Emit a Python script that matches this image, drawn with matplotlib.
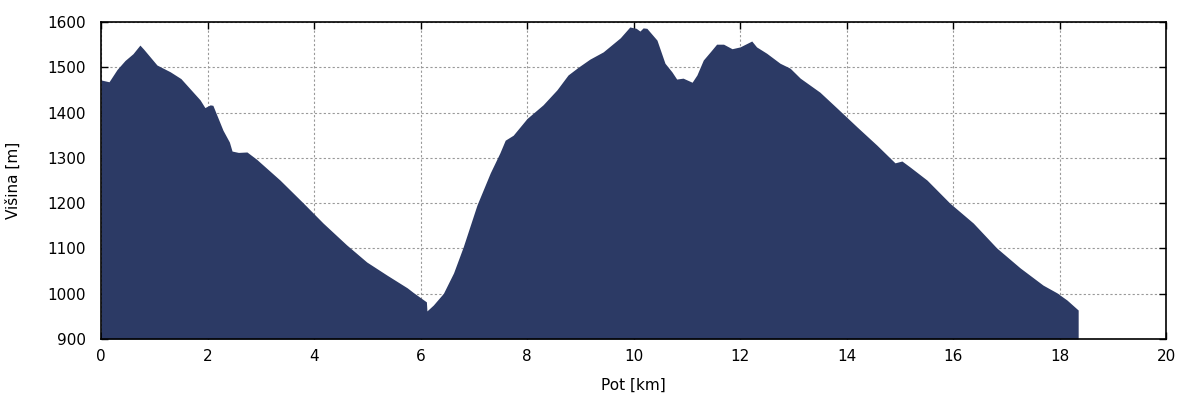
import matplotlib
matplotlib.use("Agg")
import matplotlib.pyplot as plt

distance_km = [0.0, 0.15, 0.3, 0.45, 0.6, 0.73, 0.8, 1.05, 1.3, 1.5, 1.86, 1.95, 2.05, 2.1,
               2.29, 2.41, 2.46, 2.58, 2.74, 2.92, 3.36, 3.80, 4.17, 4.61, 4.99, 5.37, 5.75,
               5.86, 6.11, 6.12, 6.24, 6.43, 6.62, 6.80, 7.06, 7.31, 7.49, 7.59, 7.74, 8.0,
               8.30, 8.56, 8.77, 8.96, 9.18, 9.43, 9.75, 9.93, 10.05, 10.12, 10.18, 10.25,
               10.44, 10.59, 10.72, 10.81, 10.93, 11.1, 11.19, 11.31, 11.44, 11.56, 11.69,
               11.85, 12.0, 12.22, 12.31, 12.5, 12.75, 12.94, 13.13, 13.50, 13.82, 14.2,
               14.57, 14.91, 15.04, 15.19, 15.51, 15.94, 16.38, 16.82, 17.26, 17.69, 17.95,
               18.14, 18.35]
elevation_m = [1472, 1468, 1495, 1515, 1530, 1549, 1540, 1505, 1490, 1475, 1428, 1411, 1417, 1416,
               1361, 1335, 1315, 1312, 1313, 1297, 1251, 1200, 1156, 1108, 1070, 1041, 1013,
               1003, 982, 962, 975, 1001, 1046, 1103, 1196, 1267, 1311, 1339, 1350, 1387,
               1417, 1450, 1483, 1500, 1518, 1534, 1565, 1589, 1586, 1580, 1587, 1586,
               1560, 1509, 1490, 1474, 1476, 1467, 1483, 1516, 1534, 1551, 1551,
               1541, 1545, 1558, 1545, 1531, 1509, 1498, 1476, 1445, 1410, 1368,
               1328, 1289, 1293, 1280, 1251, 1200, 1156, 1101, 1057, 1019, 1002,
               986, 964]

x_ticks = [0, 2, 4, 6, 8, 10, 12, 14, 16, 18, 20]
y_ticks = [900, 1000, 1100, 1200, 1300, 1400, 1500, 1600]

fig = plt.figure(figsize=(12, 4), dpi=100)
ax = fig.add_axes([0.0842, 0.1525, 0.8875, 0.7925])
ax.fill_between(distance_km, elevation_m, 900, color="#2c3a65", linewidth=0, zorder=2)
ax.set_xlim(0, 20)
ax.set_ylim(900, 1600)
ax.set_xticks(x_ticks)
ax.set_yticks(y_ticks)
ax.grid(True, color="#999999", linestyle=(0, (2, 2)), linewidth=0.8, zorder=1)
ax.set_axisbelow(True)
ax.tick_params(direction="in", top=True, right=True, length=5, width=1, labelsize=11)
ax.tick_params(axis="x", pad=7)
ax.tick_params(axis="y", pad=11)
for s in ax.spines.values():
    s.set_linewidth(1.2)
    s.set_zorder(3)
ax.set_xlabel("Pot [km]", fontsize=11, labelpad=10)
ax.set_ylabel("Višina [m]", fontsize=11, labelpad=19)
fig.savefig("out.png", dpi=100)
